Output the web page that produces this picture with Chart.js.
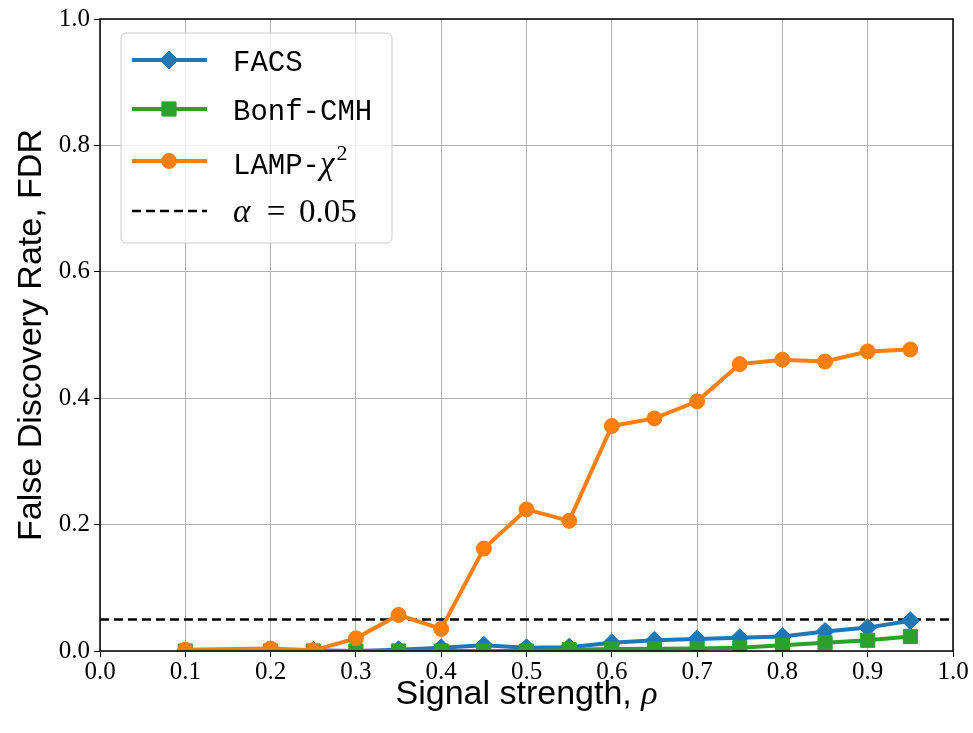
<!DOCTYPE html>
<html>
<head>
<meta charset="utf-8">
<script src="https://cdn.jsdelivr.net/npm/chart.js@4"></script>
<style>
  body { margin: 0; background: #fff; }
  #wrap { width: 973px; height: 733px; }
</style>
</head>
<body>
<div id="wrap"><canvas id="fdr" width="973" height="733"></canvas></div>
<script>
// signal strength values (x)
const rho = [0.1, 0.2, 0.25, 0.3, 0.35, 0.4, 0.45, 0.5, 0.55, 0.6, 0.65, 0.7, 0.75, 0.8, 0.85, 0.9, 0.95];

// FDR per method
const facs     = [0.0, 0.0, 0.001, 0.0, 0.002, 0.005, 0.009, 0.005, 0.006, 0.013, 0.017, 0.019, 0.021, 0.023, 0.031, 0.037, 0.048];
const bonfCmh  = [0.0, 0.0, 0.0, 0.0, 0.0, 0.0, 0.0, 0.0, 0.002, 0.003, 0.0035, 0.004, 0.005, 0.009, 0.013, 0.017, 0.023];
const lampChi2 = [0.002, 0.004, 0.001, 0.02, 0.057, 0.035, 0.162, 0.224, 0.206, 0.356, 0.368, 0.395, 0.454, 0.461, 0.458, 0.474, 0.477];

const alphaLevel = 0.05;

const xTicks = [0.0, 0.1, 0.2, 0.3, 0.4, 0.5, 0.6, 0.7, 0.8, 0.9, 1.0];
const yTicks = [0.0, 0.2, 0.4, 0.6, 0.8, 1.0];

const BLUE = '#1f77b4', GREEN = '#2ca02c', ORANGE = '#ff7f0e';

const pts = ys => rho.map((x, i) => ({ x: x, y: ys[i] }));

// axis titles, frame and legend drawn by hand (mixed fonts)
const decor = {
    id: 'decor',
    afterDraw(chart) {
        const { ctx, chartArea: a } = chart;
        ctx.save();

        // frame
        ctx.strokeStyle = '#000';
        ctx.lineWidth = 1.5;
        ctx.strokeRect(a.left, a.top, a.right - a.left, a.bottom - a.top);

        // x title
        ctx.fillStyle = '#000';
        ctx.textBaseline = 'alphabetic';
        const xt1 = 'Signal strength, ';
        ctx.font = '34px "Liberation Sans"';
        const w1 = ctx.measureText(xt1).width;
        ctx.font = 'italic 34px "Liberation Serif"';
        const w2 = ctx.measureText('ρ').width;
        let sx = (a.left + a.right) / 2 - (w1 + w2) / 2;
        ctx.font = '34px "Liberation Sans"';
        ctx.textAlign = 'left';
        ctx.fillText(xt1, sx, 704);
        ctx.font = 'italic 34px "Liberation Serif"';
        ctx.fillText('ρ', sx + w1, 704);

        // y title
        ctx.save();
        ctx.translate(41, (a.top + a.bottom) / 2);
        ctx.rotate(-Math.PI / 2);
        ctx.textAlign = 'center';
        ctx.font = '34px "Liberation Sans"';
        ctx.fillText('False Discovery Rate, FDR', 0, 0);
        ctx.restore();

        // legend box
        const bx = 121, by = 33, bw = 271, bh = 210, r = 5;
        ctx.beginPath();
        ctx.moveTo(bx + r, by);
        ctx.arcTo(bx + bw, by, bx + bw, by + bh, r);
        ctx.arcTo(bx + bw, by + bh, bx, by + bh, r);
        ctx.arcTo(bx, by + bh, bx, by, r);
        ctx.arcTo(bx, by, bx + bw, by, r);
        ctx.closePath();
        ctx.fillStyle = 'rgba(255,255,255,0.8)';
        ctx.fill();
        ctx.strokeStyle = '#cccccc';
        ctx.lineWidth = 1;
        ctx.stroke();

        const rows = [60, 109, 161, 211];
        const lx0 = 132, lx1 = 207, mx = 169, tx = 233;
        const ds = chart.data.datasets;
        for (let i = 0; i < 4; i++) {
            const d = ds[i];
            const y = rows[i];
            ctx.beginPath();
            ctx.strokeStyle = d.borderColor;
            ctx.lineWidth = d.borderWidth;
            ctx.setLineDash(d.borderDash || []);
            ctx.moveTo(lx0, y);
            ctx.lineTo(lx1, y);
            ctx.stroke();
            ctx.setLineDash([]);
            if (d.pointRadius > 0) {
                ctx.fillStyle = d.backgroundColor;
                ctx.strokeStyle = d.borderColor;
                ctx.lineWidth = 1;
                Chart.helpers.drawPoint(ctx, {
                    pointStyle: d.pointStyle, radius: d.pointRadius, rotation: 0,
                    borderWidth: 1
                }, mx, y);
            }
        }
        // legend text
        ctx.fillStyle = '#000';
        ctx.textAlign = 'left';
        ctx.textBaseline = 'alphabetic';
        ctx.font = '29px "Liberation Mono"';
        ctx.fillText('FACS', tx, rows[0] + 11);
        ctx.fillText('Bonf-CMH', tx, rows[1] + 11);
        ctx.fillText('LAMP-', tx, rows[2] + 13);
        const lw = ctx.measureText('LAMP-').width;
        ctx.font = 'italic 33px "Liberation Serif"';
        ctx.fillText('χ', tx + lw, rows[2] + 13);
        const cw = ctx.measureText('χ').width;
        ctx.font = '22px "Liberation Serif"';
        ctx.fillText('2', tx + lw + cw + 2, rows[2] - 1);
        const base = rows[3] + 11;
        ctx.font = 'italic 33px "Liberation Serif"';
        ctx.fillText('α', tx, base);
        ctx.font = '33px "Liberation Serif"';
        ctx.textAlign = 'center';
        ctx.fillText('=', 276, base);
        ctx.textAlign = 'left';
        ctx.fillText(alphaLevel.toFixed(2), 299, base);

        ctx.restore();
    }
};

new Chart(document.getElementById('fdr'), {
    type: 'line',
    data: {
        datasets: [
            {
                label: 'FACS', data: pts(facs), order: 2,
                borderColor: BLUE, backgroundColor: BLUE, borderWidth: 4,
                pointStyle: 'rectRot', pointRadius: 9, pointBorderWidth: 1, clip: 0
            },
            {
                label: 'Bonf-CMH', data: pts(bonfCmh), order: 1,
                borderColor: GREEN, backgroundColor: GREEN, borderWidth: 4,
                pointStyle: 'rect', pointRadius: 10, pointBorderWidth: 1, clip: 0
            },
            {
                label: 'LAMP-χ²', data: pts(lampChi2), order: 0,
                borderColor: ORANGE, backgroundColor: ORANGE, borderWidth: 4,
                pointStyle: 'circle', pointRadius: 7.5, pointBorderWidth: 1, clip: 0
            },
            {
                label: 'alpha', data: [{ x: 0, y: alphaLevel }, { x: 1, y: alphaLevel }], order: 3,
                borderColor: '#000', backgroundColor: '#000', borderWidth: 2.5,
                borderDash: [9, 5], pointRadius: 0, clip: 0
            }
        ]
    },
    options: {
        responsive: false,
        devicePixelRatio: 1,
        animation: false,
        layout: { padding: { left: 0, top: 16, right: 20, bottom: 0 } },
        plugins: { legend: { display: false }, tooltip: { enabled: false } },
        elements: { line: { tension: 0 } },
        scales: {
            x: {
                type: 'linear', min: 0, max: 1,
                afterBuildTicks: s => { s.ticks = xTicks.map(v => ({ value: v })); },
                afterFit: s => { s.height = 82; },
                ticks: {
                    color: '#000', padding: 0, maxRotation: 0, autoSkip: false,
                    font: { family: 'Liberation Serif', size: 25 },
                    callback: v => v.toFixed(1)
                },
                grid: { color: '#b0b0b0', lineWidth: 1, tickColor: '#000', tickLength: 6 },
                border: { display: false }
            },
            y: {
                type: 'linear', min: 0, max: 1,
                afterBuildTicks: s => { s.ticks = yTicks.map(v => ({ value: v })); },
                afterFit: s => { s.width = 100; },
                ticks: {
                    color: '#000', padding: 4,
                    font: { family: 'Liberation Serif', size: 25 },
                    callback: v => v.toFixed(1)
                },
                grid: { color: '#b0b0b0', lineWidth: 1, tickColor: '#000', tickLength: 6 },
                border: { display: false }
            }
        }
    },
    plugins: [decor]
});
</script>
</body>
</html>
